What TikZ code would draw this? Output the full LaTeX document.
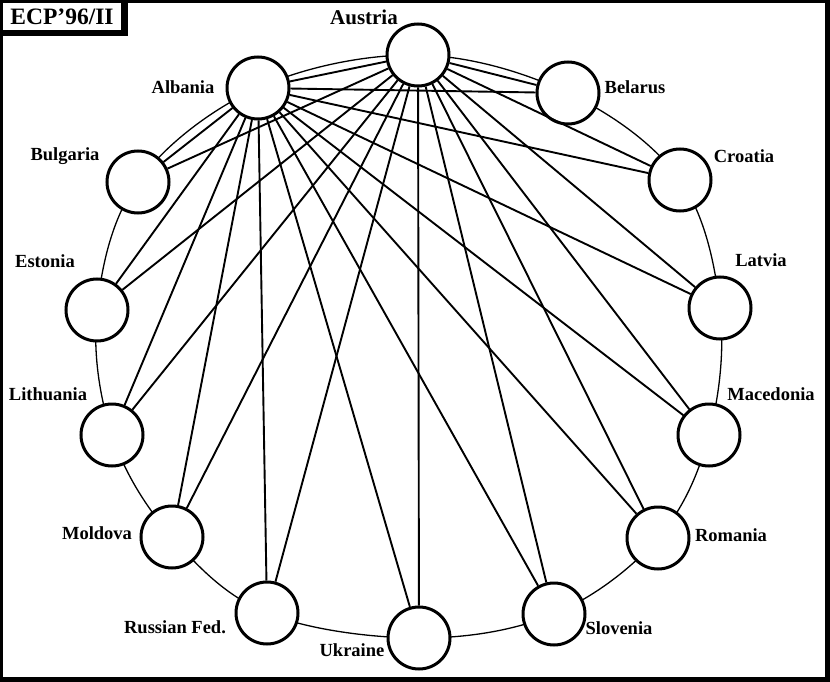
\documentclass[tikz,border=0pt]{standalone}
\usepackage{fontspec}
\setmainfont{Liberation Serif}
\begin{document}
\begin{tikzpicture}[x=1pt,y=-1pt,
  cnode/.style={circle,draw,line width=3pt,fill=white,minimum size=62pt,inner sep=0pt},
  lbl/.style={font=\fontsize{18.5}{20}\selectfont\bfseries,inner sep=0pt},
  link/.style={line width=1.9pt},
  ring/.style={line width=1.3pt}]
\useasboundingbox (0,0) rectangle (830,682);
% frame
\fill (0,0) rectangle (830,3);
\fill (0,0) rectangle (3,682);
\fill (825,0) rectangle (830,682);
\fill (0,677) rectangle (830,682);
% title box
\fill (0,0) rectangle (128,36);
\fill[white] (3,3) rectangle (121,30);
\node[font=\fontsize{23.5}{25}\selectfont\bfseries,inner sep=0pt] (title) at (62,17) {ECP’96/II};
% ring
\draw[ring] plot[smooth cycle, tension=0.6] coordinates {(418,55) (568,93) (680,180) (720,308) (709,435) (658,538) (554,614) (419,638) (267,613) (172,537) (112,435) (97,310) (138,182) (258,88)};
% nodes
\node[cnode] (aus) at (418,55) {};
\node[cnode] (bel) at (568,93) {};
\node[cnode] (cro) at (680,180) {};
\node[cnode] (lat) at (720,308) {};
\node[cnode] (mac) at (709,435) {};
\node[cnode] (rom) at (658,538) {};
\node[cnode] (slo) at (554,614) {};
\node[cnode] (ukr) at (419,638) {};
\node[cnode] (rus) at (267,613) {};
\node[cnode] (mol) at (172,537) {};
\node[cnode] (lit) at (112,435) {};
\node[cnode] (est) at (97,310) {};
\node[cnode] (bul) at (138,182) {};
\node[cnode] (alb) at (258,88) {};
% labels
\node[lbl,font=\fontsize{21}{23}\selectfont\bfseries] (laus) at (364,17) {Austria};
\node[lbl] (lbel) at (635,87) {Belarus};
\node[lbl] (lcro) at (744,156) {Croatia};
\node[lbl] (llat) at (761,260) {Latvia};
\node[lbl] (lmac) at (771,394) {Macedonia};
\node[lbl] (lrom) at (731,535) {Romania};
\node[lbl] (lslo) at (619,628) {Slovenia};
\node[lbl] (lukr) at (352,650) {Ukraine};
\node[lbl] (lrus) at (175,627) {Russian Fed.};
\node[lbl] (lmol) at (97,533) {Moldova};
\node[lbl] (llit) at (48,394) {Lithuania};
\node[lbl] (lest) at (45,261) {Estonia};
\node[lbl] (lbul) at (65,156) {Bulgaria};
\node[lbl] (lalb) at (183,87) {Albania};
% links
\draw[link] (aus) -- (alb);
\foreach \t in {bel,cro,lat,mac,rom,slo,ukr,rus,mol,lit,est,bul}{
  \draw[link] (aus) -- (\t);
  \draw[link] (alb) -- (\t);
}
\end{tikzpicture}
\end{document}
